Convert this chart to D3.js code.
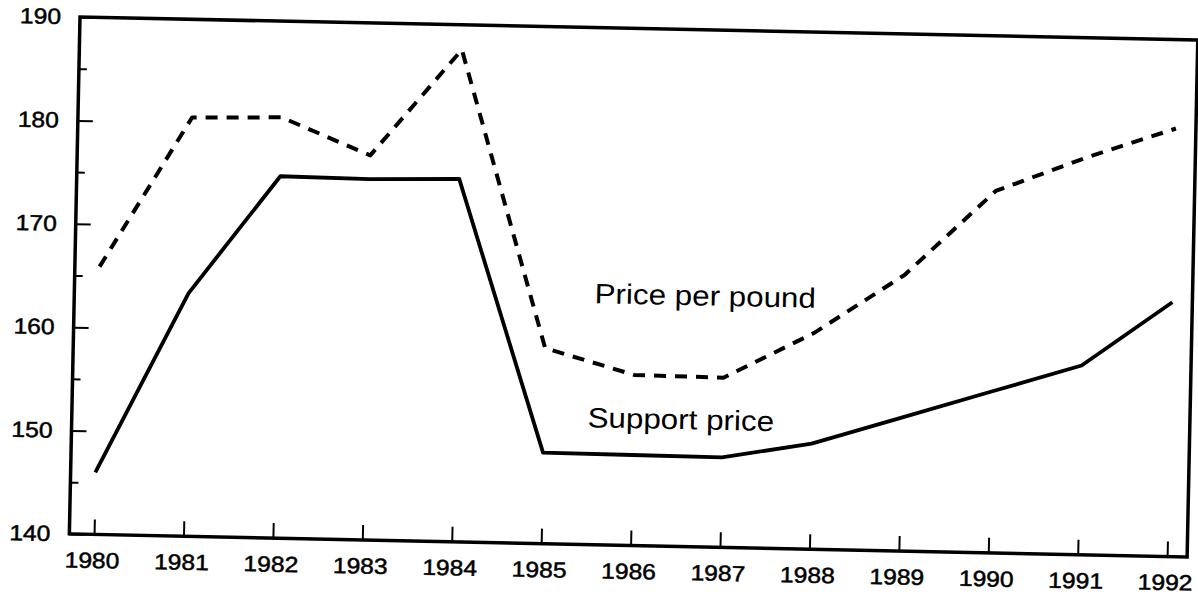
<!DOCTYPE html>
<html>
<head>
<meta charset="utf-8">
<script src="https://cdn.jsdelivr.net/npm/d3@7"></script>
<style>
body { margin: 0; background: #fff; }
svg { display: block; }
</style>
</head>
<body>
<svg id="chart" width="1198" height="596"></svg>
<script>
// years on the bottom axis
var years = [1980, 1981, 1982, 1983, 1984, 1985, 1986, 1987, 1988, 1989, 1990, 1991, 1992];
// dashed line
var pricePerPound = [165.9, 180.5, 180.7, 177.2, 187.6, 158.9, 156.5, 156.4, 160.9, 166.7, 175.0, 178.4, 181.4];
// solid line
var supportPrice = [146.0, 163.5, 175.0, 174.9, 175.1, 148.8, 148.75, 148.7, 150.2, 152.9, 155.6, 158.3, 164.6];
var yMajor = [140, 150, 160, 170, 180, 190];
var yMinor = [145, 155, 165, 175, 185];
var seriesLabels = ["Price per pound", "Support price"];

var svg = d3.select("#chart"),
	w = 1118,
	h = 517,
	stretch = 1.12,
	font = "'Liberation Sans', Arial, Helvetica, sans-serif";

// the scan is a little tilted, so the whole plot is turned with it
var g = svg.append("g")
	.attr("transform", "translate(80,17) rotate(1.18)");

var x = d3.scaleLinear().domain([1980, 1992]).range([24.7, 1098]);
var y = d3.scaleLinear().domain([140, 190]).range([h, 0]);

// minor ticks on the left
g.append("g")
	.call(d3.axisLeft(y).tickValues(yMinor).tickSize(-8).tickFormat(""))
	.call(function(s) { s.select(".domain").remove(); })
	.selectAll("line").attr("stroke", "#000").attr("stroke-width", 2);

var yAxis = g.append("g")
	.call(d3.axisLeft(y).tickValues(yMajor).tickSize(-15).tickPadding(19).tickFormat(d3.format("d")));
yAxis.select(".domain").remove();
yAxis.selectAll("line").attr("stroke", "#000").attr("stroke-width", 2);
yAxis.selectAll("text")
	.attr("x", -19 / stretch)
	.attr("transform", "scale(" + stretch + ",1)")
	.style("font-family", font)
	.style("font-size", "22px")
	.attr("fill", "#000")
	.attr("stroke", "#000")
	.attr("stroke-width", 0.5);

var xAxis = g.append("g")
	.attr("transform", "translate(0," + h + ")")
	.call(d3.axisBottom(x).tickValues(years).tickSize(-15).tickPadding(18).tickFormat(d3.format("d")));
xAxis.select(".domain").remove();
xAxis.selectAll("line").attr("stroke", "#000").attr("stroke-width", 2);
xAxis.selectAll("text")
	.attr("transform", "translate(-2,0) scale(" + stretch + ",1)")
	.style("font-family", font)
	.style("font-size", "22px")
	.attr("fill", "#000")
	.attr("stroke", "#000")
	.attr("stroke-width", 0.5);

// frame
g.append("rect")
	.attr("x", 0)
	.attr("y", 0)
	.attr("width", w)
	.attr("height", h)
	.attr("fill", "none")
	.attr("stroke", "#000")
	.attr("stroke-width", 3.5);

var line = d3.line()
	.x(function(d, i) { return x(years[i]); })
	.y(function(d) { return y(d); });

g.append("path")
	.datum(pricePerPound)
	.attr("d", line)
	.attr("fill", "none")
	.attr("stroke", "#000")
	.attr("stroke-width", 4)
	.attr("stroke-dasharray", "12,9")
	.attr("stroke-linejoin", "round");

g.append("path")
	.datum(supportPrice)
	.attr("d", line)
	.attr("fill", "none")
	.attr("stroke", "#000")
	.attr("stroke-width", 3.8)
	.attr("stroke-linejoin", "round");

// labels next to the lines
function drawLabel(txt, lx, ly) {
	g.append("text")
		.attr("transform", "translate(" + lx + "," + ly + ") scale(" + stretch + ",1)")
		.style("font-family", font)
		.style("font-size", "28px")
		.attr("fill", "#000")
		.text(txt);
}
drawLabel(seriesLabels[0], x(1985.54), y(163.35));
drawLabel(seriesLabels[1], x(1985.49), y(151.35));
</script>
</body>
</html>
